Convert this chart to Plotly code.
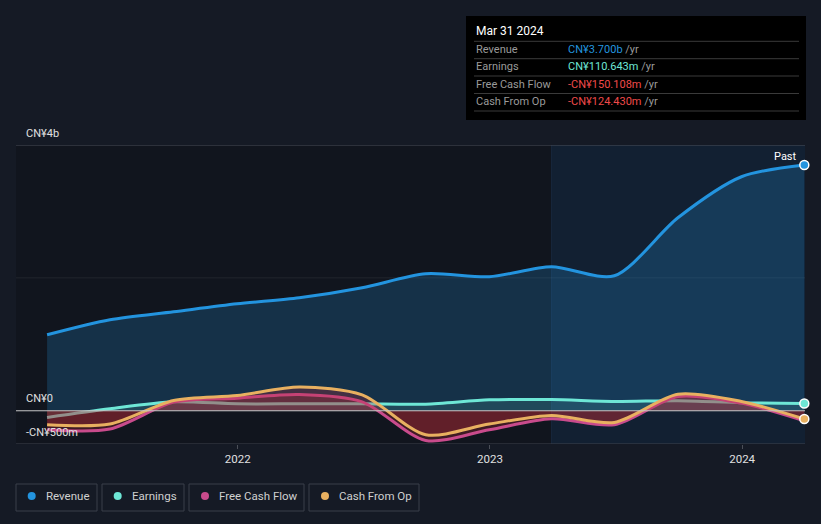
import plotly.graph_objects as go

# ---- data (CN¥ millions, trailing twelve months) ----
dates = ["2021-03-31", "2021-06-30", "2021-09-30", "2021-12-31",
         "2022-03-31", "2022-06-30", "2022-09-30", "2022-12-31",
         "2023-03-31", "2023-06-30", "2023-09-30", "2023-12-31",
         "2024-03-31"]
revenue = [1144, 1370, 1490, 1610, 1700, 1851, 2062, 2017, 2167, 2032, 2905, 3522, 3700]
earnings = [-100, 30, 135, 105, 105, 105, 100, 165, 168, 140, 152, 122, 110.643]
free_cash_flow = [-285, -275, 130, 190, 245, 135, -447, -285, -120, -210, 215, 115, -150.108]
cash_from_op = [-210, -200, 155, 230, 358, 240, -361, -200, -70, -175, 250, 140, -124.430]

series_names = ["Revenue", "Earnings", "Free Cash Flow", "Cash From Op"]
series_colors = ["#2394df", "#6ee7d6", "#c94b8c", "#e8b060"]
fill_colors = ["rgba(35,148,223,0.22)", "rgba(110,231,214,0.13)",
               "rgba(190,45,55,0.27)", "rgba(190,45,55,0.27)"]
y_tick_vals = [4000, 0, -500]
y_tick_text = ["CN¥4b", "CN¥0", "-CN¥500m"]
x_tick_vals = ["2022-01-01", "2023-01-01", "2024-01-01"]
x_tick_text = ["2022", "2023", "2024"]
tooltip_title = "Mar 31 2024"
tooltip_values = ["CN¥3.700b", "CN¥110.643m", "-CN¥150.108m", "-CN¥124.430m"]
tooltip_colors = ["#2394df", "#6ee7d6", "#f04a4a", "#f04a4a"]
highlight_start = "2023-03-31"
x_range = ["2021-02-14", "2024-04-01"]
y_range = [-500, 4000]

W, H = 821, 524
L, R, T, B = 16, 805, 145, 444
PW, PH = R - L, B - T
BG = "#151a25"


def px(x):
    return (x - L) / PW


def py(y):
    return (B - y) / PH


FONT = "Roboto"
fig = go.Figure()

all_series = [revenue, earnings, free_cash_flow, cash_from_op]
for name, vals, col, fcol in zip(series_names, all_series, series_colors, fill_colors):
    fig.add_trace(go.Scatter(
        x=dates, y=vals, name=name, mode="lines",
        line=dict(color=col, width=3, shape="spline", smoothing=0.8),
        fill="tozeroy", fillcolor=fcol, hoverinfo="skip", showlegend=False))

# end dots
for vals, col in [(revenue, series_colors[0]), (earnings, series_colors[1]),
                  (cash_from_op, series_colors[3])]:
    fig.add_trace(go.Scatter(
        x=[dates[-1]], y=[vals[-1]], mode="markers",
        marker=dict(color=col, size=9, line=dict(color="white", width=1.5)),
        hoverinfo="skip", showlegend=False, cliponaxis=False))

shapes = []
# highlighted last-year region
shapes.append(dict(type="rect", xref="x", yref="paper", x0=highlight_start, x1=x_range[1],
                   y0=0, y1=1, fillcolor="rgba(20,62,105,0.28)", line=dict(width=0),
                   layer="below"))
shapes.append(dict(type="line", xref="x", yref="paper", x0=highlight_start, x1=highlight_start,
                   y0=0, y1=1, line=dict(color="rgba(40,80,115,0.25)", width=1), layer="below"))
# grid lines
shapes.append(dict(type="line", xref="paper", yref="y", x0=0, x1=1, y0=4000, y1=4000,
                   line=dict(color="#4b4f58", width=1)))
shapes.append(dict(type="line", xref="paper", yref="y", x0=0, x1=1, y0=2000, y1=2000,
                   line=dict(color="rgba(255,255,255,0.07)", width=1), layer="below"))
shapes.append(dict(type="line", xref="paper", yref="y", x0=0, x1=1, y0=0, y1=0,
                   line=dict(color="#c8c8c8", width=1)))
shapes.append(dict(type="line", xref="paper", yref="y", x0=0, x1=1, y0=-500, y1=-500,
                   line=dict(color="#3e434d", width=1)))

annotations = []
for v, t in zip(y_tick_vals, y_tick_text):
    annotations.append(dict(xref="paper", yref="y", x=px(24), y=v, yshift=12,
                            text=t, showarrow=False, xanchor="left", yanchor="middle",
                            font=dict(family=FONT, size=11, color="#e0e0e0")))

# "Past" label
annotations.append(dict(xref="paper", yref="paper", x=px(785), y=py(156), text="Past",
                        showarrow=False, xanchor="center", yanchor="middle",
                        font=dict(family=FONT, size=11, color="#ffffff")))

# tooltip box
shapes.append(dict(type="rect", xref="paper", yref="paper", x0=px(466), x1=px(806),
                   y0=py(120), y1=py(16), fillcolor="#000000", line=dict(width=0)))
for ly in [41.3, 58.7, 76.0, 93.5, 111.0]:
    shapes.append(dict(type="line", xref="paper", yref="paper", x0=px(474), x1=px(799),
                       y0=py(ly), y1=py(ly), line=dict(color="#3a3a3a", width=1)))
annotations.append(dict(xref="paper", yref="paper", x=px(474), y=py(31), text=tooltip_title,
                        showarrow=False, xanchor="left", yanchor="middle",
                        font=dict(family=FONT, size=12, color="#ffffff")))
for i, (nm, val, vc) in enumerate(zip(series_names, tooltip_values, tooltip_colors)):
    ry = [49.5, 66.8, 84.3, 101.7][i]
    annotations.append(dict(xref="paper", yref="paper", x=px(474), y=py(ry), text=nm,
                            showarrow=False, xanchor="left", yanchor="middle",
                            font=dict(family=FONT, size=11, color="#9a9a9a")))
    annotations.append(dict(xref="paper", yref="paper", x=px(566), y=py(ry),
                            text=f"<span style='color:{vc}'>{val}</span> /yr",
                            showarrow=False, xanchor="left", yanchor="middle",
                            font=dict(family=FONT, size=11, color="#9a9a9a")))

# legend boxes
box_x = [(16, 97), (102, 184), (189, 304), (309, 419)]
dot_x = [31.7, 117.7, 205, 325]
text_x = [44.3, 130, 217, 337]
for (x0, x1), dx, tx, nm, col in zip(box_x, dot_x, text_x, series_names, series_colors):
    shapes.append(dict(type="rect", xref="paper", yref="paper", x0=px(x0), x1=px(x1),
                       y0=py(511), y1=py(484), fillcolor="rgba(0,0,0,0)",
                       line=dict(color="#3a3f4a", width=1)))
    shapes.append(dict(type="circle", xref="paper", yref="paper", x0=px(dx - 4), x1=px(dx + 4),
                       y0=py(500), y1=py(492), fillcolor=col, line=dict(width=0)))
    annotations.append(dict(xref="paper", yref="paper", x=px(tx), y=py(496), text=nm,
                            showarrow=False, xanchor="left", yanchor="middle",
                            font=dict(family=FONT, size=11.5, color="#d0d0d0")))

fig.update_layout(
    width=W, height=H,
    margin=dict(l=L, r=W - R, t=T, b=H - B),
    paper_bgcolor=BG, plot_bgcolor="#11151e",
    showlegend=False,
    shapes=shapes, annotations=annotations,
    font=dict(family=FONT),
    xaxis=dict(type="date", range=x_range, showgrid=False, zeroline=False, showline=False,
               tickvals=x_tick_vals, ticktext=x_tick_text, ticks="outside", ticklen=4,
               tickcolor="#4b4f58", tickfont=dict(family=FONT, size=11.5, color="#e0e0e0")),
    yaxis=dict(range=y_range, showgrid=False, zeroline=False, showticklabels=False,
               showline=False),
)

fig.write_html(
    "out.html",
    config={"displayModeBar": False},
    post_script=("document.body.style.margin='0';document.body.style.padding='0';"
                 "document.body.style.overflow='hidden';"
                 f"document.body.style.background='{BG}';"),
)
